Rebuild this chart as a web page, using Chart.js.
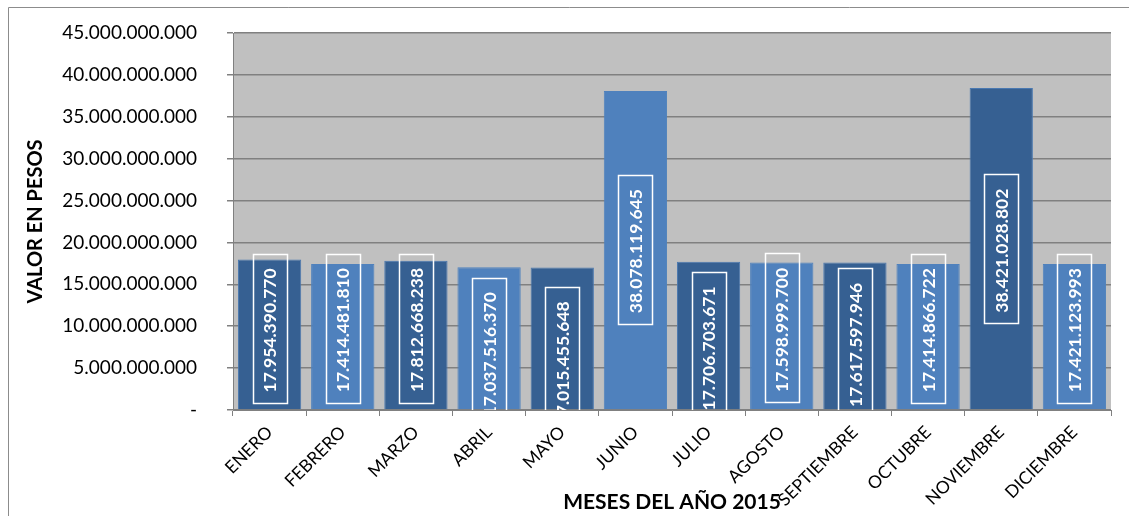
<!DOCTYPE html>
<html>
<head>
<meta charset="utf-8">
<script src="https://cdn.jsdelivr.net/npm/chart.js@4/dist/chart.umd.min.js"></script>
<style>
html,body{margin:0;padding:0;background:#fff;}
#wrap{width:1129px;height:516px;position:relative;}
</style>
</head>
<body>
<div id="wrap"><canvas id="c" width="1129" height="516"></canvas></div>
<script>
const months = ['ENERO','FEBRERO','MARZO','ABRIL','MAYO','JUNIO','JULIO','AGOSTO','SEPTIEMBRE','OCTUBRE','NOVIEMBRE','DICIEMBRE'];
const values = [17954390770, 17414481810, 17812668238, 17037516370, 17015455648, 38078119645,
                17706703671, 17598999700, 17617597946, 17414866722, 38421028802, 17421123993];
const yTickLabels = ['-', '5.000.000.000', '10.000.000.000', '15.000.000.000', '20.000.000.000',
                     '25.000.000.000', '30.000.000.000', '35.000.000.000', '40.000.000.000', '45.000.000.000'];
const yAxisTitle = 'VALOR EN PESOS';
const xAxisTitle = 'MESES DEL AÑO 2015';

function fmt(v){ return Math.round(v).toString().replace(/\B(?=(\d{3})+(?!\d))/g, '.'); }

const DARK = '#366092', LIGHT = '#4F81BD';
const barColors = months.map((m, i) => i % 2 === 0 ? DARK : LIGHT);
const barBorders = months.map((m, i) => i % 2 === 0 ? '#4A78B0' : '#4F81BD');

const background = {
  id: 'background',
  beforeDraw(chart) {
    const {ctx, chartArea: a, width, height} = chart;
    ctx.save();
    ctx.fillStyle = '#fff';
    ctx.fillRect(0, 0, width, height);
    ctx.strokeStyle = '#8C8C8C';
    ctx.lineWidth = 1;
    ctx.beginPath();
    ctx.moveTo(8.5, height + 2);
    ctx.lineTo(8.5, 7.5);
    ctx.lineTo(width + 2, 7.5);
    ctx.stroke();
    ctx.fillStyle = '#C0C0C0';
    ctx.fillRect(a.left, a.top, a.right - a.left, a.bottom - a.top);
    ctx.restore();
  }
};

const labelBoxes = {
  id: 'labelBoxes',
  afterDatasetsDraw(chart, args, opts) {
    const {ctx, chartArea: a} = chart;
    const meta = chart.getDatasetMeta(0);
    ctx.save();
    ctx.beginPath();
    ctx.rect(a.left, a.top, a.right - a.left, a.bottom - a.top);
    ctx.clip();
    meta.data.forEach((bar, i) => {
      const cx = bar.x;
      const cy = (bar.y + bar.base) / 2 + opts.offsets[i];
      const w = opts.boxWidth, h = opts.boxHeight;
      ctx.strokeStyle = '#FFFFFF';
      ctx.lineWidth = 1.5;
      ctx.strokeRect(Math.round(cx - w / 2) + 0.5, Math.round(cy - h / 2) + 0.5, w, h);
      ctx.save();
      ctx.translate(cx + 1, cy + 2);
      ctx.rotate(-Math.PI / 2);
      ctx.fillStyle = '#FFFFFF';
      ctx.font = opts.font;
      ctx.textAlign = 'center';
      ctx.textBaseline = 'middle';
      ctx.fillText(fmt(values[i]), 0, 0);
      ctx.restore();
    });
    ctx.restore();
  }
};

new Chart(document.getElementById('c'), {
  type: 'bar',
  data: {
    labels: months,
    datasets: [{
      data: values,
      backgroundColor: barColors,
      borderColor: barBorders,
      borderWidth: 1,
      barPercentage: 0.865,
      categoryPercentage: 1.0
    }]
  },
  options: {
    responsive: false,
    animation: false,
    layout: { padding: { top: 33, right: 18, left: 0, bottom: 0 } },
    plugins: {
      legend: { display: false },
      tooltip: { enabled: false },
      labelBoxes: {
        offsets: [-6, -8.5, -7, 14, 23, -1, 11, -8, 7, -8.5, 0, -8.5],
        boxWidth: 34,
        boxHeight: 149,
        font: 'bold 17.5px Lato'
      }
    },
    scales: {
      x: {
        ticks: { minRotation: 45, maxRotation: 45, autoSkip: false, padding: 6, color: '#000',
                 font: { family: 'Lato', size: 17.5 } },
        grid: { display: true, drawOnChartArea: false, drawTicks: true, tickLength: 6, color: '#808080', offset: true },
        border: { color: '#808080', width: 1 },
        title: { display: true, text: xAxisTitle, color: '#000',
                 font: { family: 'Lato', size: 21, weight: 'bold' }, padding: { top: 0, bottom: 1 } },
        afterFit(s) { s.height = 106; s.paddingLeft = 0; s.paddingRight = 0; }
      },
      y: {
        min: 0, max: 45000000000,
        ticks: { stepSize: 5000000000, padding: 30, color: '#000',
                 font: { family: 'Lato', size: 19 },
                 callback: (v) => yTickLabels[Math.round(v / 5000000000)] },
        grid: { color: '#808080', lineWidth: 1.5, tickLength: 6, drawTicks: true },
        border: { color: '#808080', width: 1 },
        title: { display: true, text: yAxisTitle, color: '#000',
                 font: { family: 'Lato', size: 20, weight: 'bold' }, padding: { top: 24, bottom: 0 } },
        afterFit(s) { s.width = 233; s.paddingTop = 0; s.paddingBottom = 0; }
      }
    }
  },
  plugins: [background, labelBoxes]
});
</script>
</body>
</html>
